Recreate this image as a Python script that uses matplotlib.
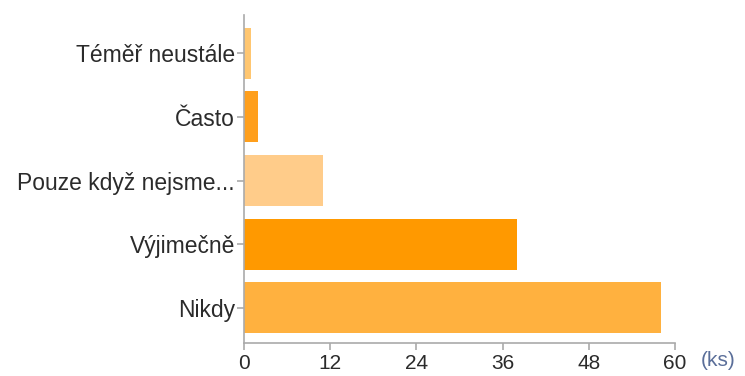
import matplotlib.pyplot as plt

categories = ['Téměř neustále', 'Často', 'Pouze když nejsme...', 'Výjimečně', 'Nikdy']
counts = [1, 2, 11, 38, 58]
colors = ['#ffc670', '#ff9f1c', '#ffcc8a', '#ff9900', '#ffb13f']
xticks = [0, 12, 24, 36, 48, 60]

plt.rcParams['font.family'] = ['Liberation Sans', 'DejaVu Sans']

fig = plt.figure(figsize=(7.45, 3.76), dpi=100)
ax = fig.add_axes([244 / 745, 1 - 343 / 376, 431 / 745, 328 / 376])

ypos = list(range(len(categories)))
ax.barh(ypos, counts, height=0.8, color=colors)
ax.set_ylim(len(categories) - 0.5 + 0.05, -0.5 - 0.1)
ax.set_xlim(0, 60)
ax.set_yticks(ypos)
ax.set_yticklabels(categories, fontsize=16.5, color='#2b2b2b')
ax.set_xticks(xticks)
ax.set_xticklabels([str(t) for t in xticks], fontsize=15, color='#2b2b2b')

for side in ['top', 'right']:
    ax.spines[side].set_visible(False)
for side in ['left', 'bottom']:
    ax.spines[side].set_color('#aaaaaa')
    ax.spines[side].set_linewidth(1.2)
ax.tick_params(axis='both', colors='#aaaaaa', labelcolor='#2b2b2b', length=5, width=1.2)
ax.tick_params(axis='x', pad=3)
ax.tick_params(axis='y', pad=1.5)

ax.text(1.1, -0.025, '(ks)', transform=ax.transAxes, fontsize=15,
        color='#5a6e99', ha='center', va='top')

fig.savefig('out.png', dpi=100)
